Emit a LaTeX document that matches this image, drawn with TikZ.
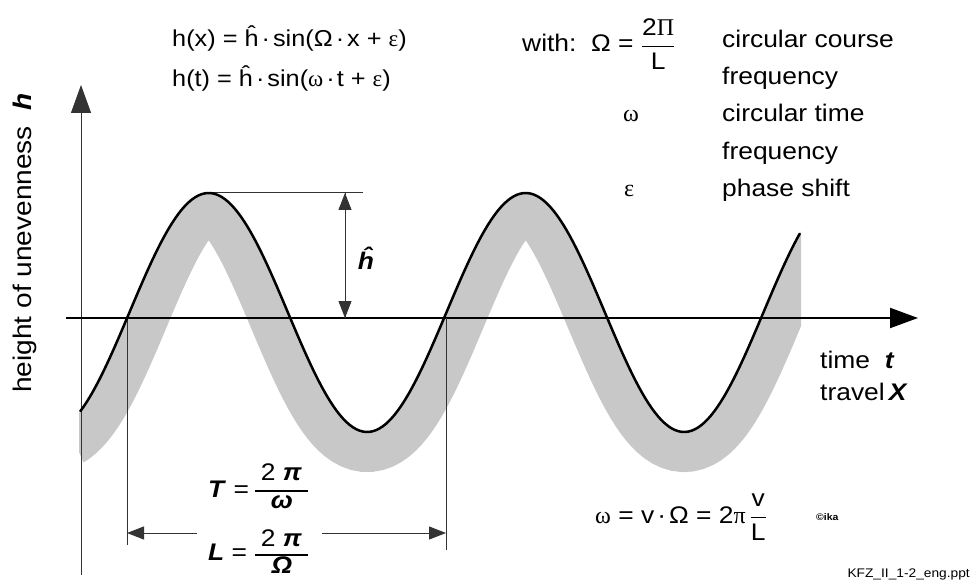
\documentclass[tikz,border=0pt]{standalone}
\usepackage{fontspec}
\setmainfont{Liberation Sans}[FakeStretch=1.1]
\newfontfamily\grk{Liberation Serif}
\usetikzlibrary{arrows.meta}
\newcommand{\myfrac}[2]{$\displaystyle\frac{\hbox{#1}}{\hbox{#2}}$}
\definecolor{bandgray}{RGB}{200,200,200}
\begin{document}
\begin{tikzpicture}[x=1pt,y=-1pt,
  txt/.style={inner sep=0pt,font=\fontsize{24}{28}\selectfont},
  eqtxt/.style={inner sep=0pt,font=\fontsize{23}{26}\selectfont},
  small/.style={inner sep=0pt,font=\fontsize{12.5}{14}\selectfont},
  thinline/.style={line width=1pt,black!80},
  fracbar/.style={line width=1.1pt,black},
  bigtip/.style={-{Triangle[length=28pt,width=20pt]}},
  smalltip/.style={-{Triangle[length=17pt,width=13pt]}},
  curve/.style={line width=2.5pt,black},
  band/.style={line width=80pt,bandgray}]
\useasboundingbox (0,0) rectangle (972,580);
% gray band
\begin{scope}
  \clip plot[domain=79:801,samples=160] (\x,{312.5-119.5*sin(1.13565*(\x-129.4))}) -- (801,590) -- (140,590) -- (79,452) -- cycle;
  \draw[band] plot[domain=20:860,samples=220] (\x,{312.5-119.5*sin(1.13565*(\x-129.4))});
\end{scope}
% coordinates
\coordinate (ybot) at (81,575);
\coordinate (ytop) at (81,85);
\coordinate (xl) at (66,318);
\coordinate (xr) at (918,318);
\coordinate (z1) at (127,318);
\coordinate (z1b) at (127,545);
\coordinate (z2) at (446,318);
\coordinate (z2b) at (446,550);
\coordinate (la) at (127,533);
\coordinate (lb) at (446,533);
\coordinate (ga) at (197,533);
\coordinate (gb) at (322,533);
\coordinate (pk) at (205,193);
\coordinate (pkr) at (363,193);
\coordinate (at) at (345,193);
\coordinate (ab) at (345,318);
\coordinate (tb1) at (255,491);
\coordinate (tb2) at (308,491);
\coordinate (lb1) at (255,555);
\coordinate (lb2) at (308,555);
% axes
\draw[thinline,bigtip] (ybot) -- (ytop);
\draw[line width=2pt,bigtip] (xl) -- (xr);
% dimension lines
\draw[thinline] (z1) -- (z1b);
\draw[thinline] (z2) -- (z2b);
\draw[thinline,smalltip] (ga) -- (la);
\draw[thinline,smalltip] (gb) -- (lb);
\draw[thinline] (pk) -- (pkr);
\draw[thinline,smalltip] (ab) -- (at);
\draw[thinline,smalltip] (at) -- (ab);
% black curve
\draw[curve] plot[domain=80:800,samples=220] (\x,{312.5-119.5*sin(1.13565*(\x-129.4))});
% texts
\node[eqtxt,anchor=base west] (eq1) at (172,47) {h(x) = ĥ\hspace{3pt}·\hspace{3pt}sin(Ω\hspace{3pt}·\hspace{3pt}x + {\grk ε})};
\node[eqtxt,anchor=base west] (eq2) at (172,87) {h(t) = ĥ\hspace{3pt}·\hspace{3pt}sin({\grk ω}\hspace{3pt}·\hspace{2pt}t + {\grk ε})};
\node[txt,anchor=base west] (with) at (522,52) {with:\ \ Ω = \myfrac{2{\grk Π}}{L}};
\node[txt,anchor=base west] (c1) at (722,48) {circular course};
\node[txt,anchor=base west] (c2) at (722,85) {frequency};
\node[txt,anchor=base west] (c3) at (722,122) {circular time};
\node[txt,anchor=base west] (c4) at (722,160) {frequency};
\node[txt,anchor=base west] (c5) at (722,197) {phase shift};
\node[txt,anchor=base west] (om) at (623,122) {\grk ω};
\node[txt,anchor=base west] (ep) at (624,197) {\grk ε};
\node[txt,rotate=90,font=\fontsize{25.5}{28}\selectfont] (ylab) at (25,243) {height of unevenness\ \ \textbf{\textit{h}}};
\node[txt,anchor=base west] (tlab) at (820,368) {time\ \ \textbf{\textit{t}}};
\node[txt,anchor=base west] (xlab) at (820,400) {travel\,\textbf{\textit{X}}};
\node[txt,font=\fontsize{24}{28}\selectfont\bfseries\itshape] (hh) at (366,258) {ĥ};
% T = 2pi/omega
\node[txt,anchor=base west] (Tl) at (208,497) {\textbf{\textit{T}} =};
\draw[fracbar] (tb1) -- (tb2);
\node[txt,anchor=base] (Tn) at (281.5,480) {2 \textbf{\textit{π}}};
\node[txt,anchor=base] (Td) at (282,508) {\textbf{\textit{ω}}};
% L = 2pi/Omega
\node[txt,anchor=base west] (Ll) at (208,560) {\textbf{\textit{L}} =};
\draw[fracbar] (lb1) -- (lb2);
\node[txt,anchor=base] (Ln) at (281.5,546) {2 \textbf{\textit{π}}};
\node[txt,anchor=base] (Ld) at (282,573) {\textbf{\textit{Ω}}};
\node[txt,anchor=base west] (weq) at (595,523) {{\grk ω} = v\hspace{3pt}·\hspace{3pt}Ω = 2{\grk π}\,\myfrac{v}{L}};
\node[inner sep=0pt,anchor=base west,font=\fontsize{9.5}{10}\selectfont\bfseries] (ika) at (816,520) {©ika};
\node[small,anchor=base east] (file) at (970,577) {KFZ\_II\_1-2\_eng.ppt};
\end{tikzpicture}
\end{document}
